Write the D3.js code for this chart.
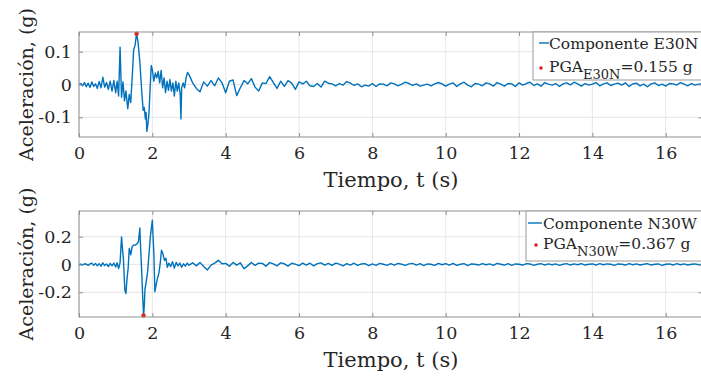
<!DOCTYPE html>
<html>
<head>
<meta charset="utf-8">
<script src="https://cdn.jsdelivr.net/npm/d3@7"></script>
<style>
body { margin: 0; background: #fff; overflow: hidden; }
text { font-family: "DejaVu Serif", serif; fill: #262626; }
</style>
</head>
<body>
<div id="chart"></div>
<script>
// time axis
const xTicks = [0, 2, 4, 6, 8, 10, 12, 14, 16];
const tailStart = 3.0, tailStep = 0.1;

// componente E30N (strong motion part, then tail sampled every 0.1 s)
const timeE30N = [0, 0.05, 0.1, 0.15, 0.2, 0.25, 0.3, 0.35, 0.4, 0.45, 0.5, 0.55, 0.6, 0.65, 0.7, 0.75,
  0.8, 0.85, 0.9, 0.95, 1.0, 1.04, 1.08, 1.12, 1.16, 1.2, 1.24, 1.28, 1.33, 1.37, 1.41, 1.45, 1.49, 1.53,
  1.57, 1.61, 1.66, 1.71, 1.75, 1.78, 1.81, 1.83, 1.85, 1.88, 1.91, 1.94, 1.97, 2.0, 2.04, 2.08, 2.12,
  2.16, 2.2, 2.24, 2.28, 2.32, 2.36, 2.4, 2.44, 2.48, 2.52, 2.56, 2.6, 2.64, 2.68, 2.72, 2.76, 2.78, 2.8,
  2.84, 2.88, 2.92, 2.96];
const accE30N = [0, 0.003, -0.004, 0.006, -0.007, 0.004, -0.009, 0.008, -0.006, 0.002, -0.012, 0.009,
  -0.01, 0.022, -0.008, 0.006, -0.015, 0.01, -0.02, 0.012, -0.025, 0.01, -0.035, 0.114, -0.039, 0.008,
  -0.05, -0.02, -0.074, -0.03, -0.055, 0.02, 0.105, 0.12, 0.155, 0.13, 0.068, -0.02, -0.079, -0.07,
  -0.105, -0.085, -0.143, -0.12, -0.084, -0.01, 0.058, 0.045, 0.01, 0.035, 0.02, 0.04, 0.005, 0.043,
  -0.01, 0.02, -0.025, 0.01, -0.018, 0.015, -0.02, 0.005, -0.035, 0.01, -0.02, 0.005, -0.03, -0.105,
  -0.01, 0.005, -0.01, 0.02, 0.037];
const tailE30N = [
  0.03, 0.005, -0.012, -0.022, 0.008, -0.005, 0.012, -0.004, 0.02, 0.005,
  -0.025, 0.01, 0.014, -0.034, -0.01, 0.012, 0.002, 0.018, -0.008, -0.02,
  0.005, 0.003, 0.024, 0.006, -0.012, 0.01, -0.006, 0.012, 0.004, -0.015,
  0.008, 0.002, 0.01, -0.004, -0.006, 0.003, -0.008, 0.01, 0.004, 0.002,
  -0.004, 0.003, -0.002, 0.009, 0.004, -0.003, 0.002, -0.007, -0.002, -0.005,
  0.003, -0.006, 0.002, 0.001, -0.004, 0.005, 0.002, -0.004, 0.001, 0.007,
  0.003, -0.003, 0.002, -0.005, -0.002, 0.001, -0.004, 0.002, 0.006, 0.002,
  -0.005, 0.001, 0.005, -0.006, 0.002, 0.007, -0.002, -0.007, 0.003, 0.001,
  -0.004, 0.005, 0.002, -0.005, 0.006, 0.001, -0.005, 0.003, 0.002, -0.006,
  0.005, -0.002, 0.003, 0.007, -0.003, 0.002, -0.005, 0.006, 0.001, -0.002,
  0.003, -0.006, 0.002, 0.005, -0.001, 0.007, 0.002, -0.005, 0.003, -0.002,
  0.001, 0.006, -0.004, 0.002, 0.005, -0.003, 0.001, 0.004, -0.002, 0.005,
  -0.006, 0.002, 0.004, -0.004, 0.001, -0.007, 0.002, 0.005, -0.003, 0.001,
  -0.005, 0.003, 0.002, -0.002, 0.006, 0.001, -0.004, 0.003, -0.002, 0.001,
  0.002];
const pgaE30N = {t: 1.57, a: 0.155, label: "0.155"};
const yTicksE30N = [-0.1, 0, 0.1];

// componente N30W
const timeN30W = [0, 0.05, 0.1, 0.15, 0.2, 0.25, 0.3, 0.35, 0.4, 0.45, 0.5, 0.55, 0.6, 0.65, 0.7, 0.75,
  0.8, 0.85, 0.9, 0.95, 1.0, 1.04, 1.08, 1.12, 1.16, 1.19, 1.21, 1.25, 1.28, 1.31, 1.34, 1.37, 1.41,
  1.45, 1.49, 1.53, 1.57, 1.62, 1.66, 1.68, 1.71, 1.74, 1.76, 1.78, 1.8, 1.83, 1.87, 1.91, 1.95, 2.0,
  2.02, 2.04, 2.07, 2.1, 2.14, 2.18, 2.22, 2.25, 2.29, 2.33, 2.37, 2.41, 2.45, 2.5, 2.55, 2.6, 2.65,
  2.7, 2.75, 2.8, 2.85, 2.9, 2.95];
const accN30W = [0, 0.003, -0.004, 0.005, 0.002, -0.006, 0.004, 0.01, -0.005, 0.008, -0.01, 0.006,
  -0.012, 0.012, -0.008, 0.004, -0.015, 0.008, -0.01, 0.01, -0.018, 0.012, -0.03, 0.013, 0.199, 0.1,
  0.043, -0.185, -0.209, -0.1, -0.029, 0.115, 0.07, 0.13, 0.139, 0.14, 0.146, 0.163, 0.263, 0.12,
  -0.053, -0.25, -0.367, -0.3, -0.173, -0.13, -0.053, 0.08, 0.21, 0.319, 0.2, 0.09, -0.197, -0.15,
  -0.1, -0.06, 0.02, 0.103, 0.075, 0.03, 0.045, -0.02, 0.01, -0.015, 0.02, -0.025, 0.015, -0.01, 0.01,
  -0.02, 0.005, -0.012, 0.01];
const tailN30W = [
  -0.005, 0.012, -0.01, 0.015, -0.015, -0.04, -0.005, 0.01, 0.03, 0.005,
  0.008, -0.012, 0.015, -0.005, 0.012, -0.03, -0.01, 0.014, -0.006, 0.01,
  0.008, -0.012, 0.014, 0.004, -0.01, 0.012, 0.005, -0.012, 0.009, 0.003,
  -0.008, 0.01, -0.004, 0.009, -0.01, 0.006, 0.012, -0.005, 0.008, -0.007,
  0.01, 0.003, -0.01, 0.006, -0.004, 0.009, -0.007, 0.004, 0.006, -0.008,
  0.004, -0.006, 0.008, 0.002, -0.006, 0.006, -0.004, 0.008, 0.002, -0.006,
  0.004, 0.008, -0.004, 0.006, -0.008, 0.004, 0.002, -0.006, 0.008, -0.002,
  0.006, -0.004, 0.008, -0.006, 0.002, 0.006, -0.008, 0.004, 0.002, -0.004,
  0.006, -0.002, 0.004, -0.006, 0.008, 0.002, -0.004, 0.006, -0.006, 0.004,
  0.002, -0.004, 0.006, 0.004, -0.006, 0.002, 0.006, -0.004, 0.004, -0.002,
  0.004, -0.006, 0.002, 0.006, -0.004, 0.004, -0.002, 0.006, -0.004, 0.002,
  0.004, -0.004, 0.006, -0.002, 0.004, 0.002, -0.006, 0.004, 0.002, -0.004,
  0.006, -0.002, 0.004, -0.004, 0.002, 0.006, -0.004, 0.002, 0.004, -0.006,
  0.002, 0.004, -0.004, 0.006, -0.002, 0.004, -0.004, 0.002, 0.004, -0.002,
  0.002];
const pgaN30W = {t: 1.76, a: -0.367, label: "0.367"};
const yTicksN30W = [-0.2, 0, 0.2];

const W = 701, H = 377;
const lineColor = "#0072BD", pgaColor = "#e02020";

const svg = d3.select("#chart").append("svg")
  .attr("width", W)
  .attr("height", H);

const panels = [
  {name: "E30N", time: timeE30N, acc: accE30N, tail: tailE30N, pga: pgaE30N, yTicks: yTicksE30N,
   yDomain: [-0.16, 0.16], top: 32, bottom: 137,
   leg: {x: 533, y: 32, h: 48, l0: 539, l1: 549, tx: 549, r1: 49, r2: 72, dotX: 541}},
  {name: "N30W", time: timeN30W, acc: accN30W, tail: tailN30W, pga: pgaN30W, yTicks: yTicksN30W,
   yDomain: [-0.378, 0.385], top: 211, bottom: 317,
   leg: {x: 526, y: 211, h: 50, l0: 528, l1: 542, tx: 543, r1: 229, r2: 249, dotX: 536}}
];

const left = 79, right = 702.4;

panels.forEach(function(p, k) {
  const xScale = d3.scaleLinear().domain([0, 17]).range([left, right]);
  const yScale = d3.scaleLinear().domain(p.yDomain).range([p.bottom, p.top]);

  const points = p.time.map((t, i) => [t, p.acc[i]])
    .concat(p.tail.map((a, i) => [tailStart + i * tailStep, a]));

  const g = svg.append("g");

  // grid
  g.selectAll(".gx").data(xTicks).enter().append("line")
    .attr("x1", d => xScale(d)).attr("x2", d => xScale(d))
    .attr("y1", p.top).attr("y2", p.bottom)
    .attr("stroke", "#e6e6e6").attr("stroke-width", 1);
  g.selectAll(".gy").data(p.yTicks).enter().append("line")
    .attr("x1", left).attr("x2", right)
    .attr("y1", d => yScale(d)).attr("y2", d => yScale(d))
    .attr("stroke", "#e6e6e6").attr("stroke-width", 1);

  // clip + data line
  svg.append("clipPath").attr("id", "clip" + k)
    .append("rect").attr("x", left).attr("y", p.top - 1)
    .attr("width", right - left).attr("height", p.bottom - p.top + 2);

  g.append("path")
    .datum(points)
    .attr("clip-path", `url(#clip${k})`)
    .attr("fill", "none")
    .attr("stroke", lineColor)
    .attr("stroke-width", 1.4)
    .attr("stroke-linejoin", "round")
    .attr("d", d3.line().x(d => xScale(d[0])).y(d => yScale(d[1])));

  g.append("circle")
    .attr("cx", xScale(p.pga.t)).attr("cy", yScale(p.pga.a))
    .attr("r", 2.2).attr("fill", pgaColor);

  // axes box
  g.append("rect")
    .attr("x", left).attr("y", p.top)
    .attr("width", right - left).attr("height", p.bottom - p.top)
    .attr("fill", "none").attr("stroke", "#8f8f8f").attr("stroke-width", 1);

  const fmt = d => d === 0 ? "0" : String(d);

  g.append("g")
    .attr("transform", `translate(0, ${p.bottom})`)
    .call(d3.axisBottom(xScale).tickValues(xTicks).tickSize(-4).tickPadding(10).tickFormat(fmt));
  g.append("g")
    .attr("transform", `translate(0, ${p.top})`)
    .call(d3.axisTop(xScale).tickValues(xTicks).tickSize(-4).tickFormat(""));
  g.append("g")
    .attr("transform", `translate(${left}, 0)`)
    .call(d3.axisLeft(yScale).tickValues(p.yTicks).tickSize(-4).tickPadding(7).tickFormat(fmt));
  g.append("g")
    .attr("transform", `translate(${right}, 0)`)
    .call(d3.axisRight(yScale).tickValues(p.yTicks).tickSize(-4).tickFormat(""));

  g.selectAll(".domain").remove();
  g.selectAll(".tick line").attr("stroke", "#8f8f8f");
  g.selectAll(".tick text")
    .attr("fill", "#262626")
    .style("font-family", "'DejaVu Serif', serif")
    .style("font-size", "17.5px");

  // axis labels
  g.append("text")
    .attr("x", 391).attr("y", p.bottom + 50)
    .style("text-anchor", "middle")
    .style("font-size", "21px")
    .text("Tiempo, t (s)");

  g.append("text")
    .attr("transform", `translate(33, ${(p.top + p.bottom) / 2}) rotate(-90)`)
    .style("text-anchor", "middle")
    .style("font-size", "19px")
    .text("Aceleración, (g)");

  // legend
  const L = p.leg;
  const legend = g.append("g");
  legend.append("rect")
    .attr("x", L.x).attr("y", L.y).attr("width", 200).attr("height", L.h)
    .attr("fill", "#fff").attr("stroke", "#9a9a9a").attr("stroke-width", 1);
  legend.append("line")
    .attr("x1", L.l0).attr("x2", L.l1).attr("y1", L.r1 - 6).attr("y2", L.r1 - 6)
    .attr("stroke", lineColor).attr("stroke-width", 1.4);
  legend.append("text")
    .attr("x", L.tx).attr("y", L.r1)
    .style("font-size", "15.5px")
    .text("Componente " + p.name);
  legend.append("circle")
    .attr("cx", L.dotX).attr("cy", L.r2 - 4).attr("r", 1.8).attr("fill", pgaColor);
  const t2 = legend.append("text")
    .attr("x", L.tx).attr("y", L.r2)
    .style("font-size", "15.5px");
  t2.append("tspan").text("PGA");
  t2.append("tspan").attr("dy", 7).style("font-size", "13px").text(p.name);
  t2.append("tspan").attr("dy", -7).text("=" + p.pga.label + " g");
});
</script>
</body>
</html>
